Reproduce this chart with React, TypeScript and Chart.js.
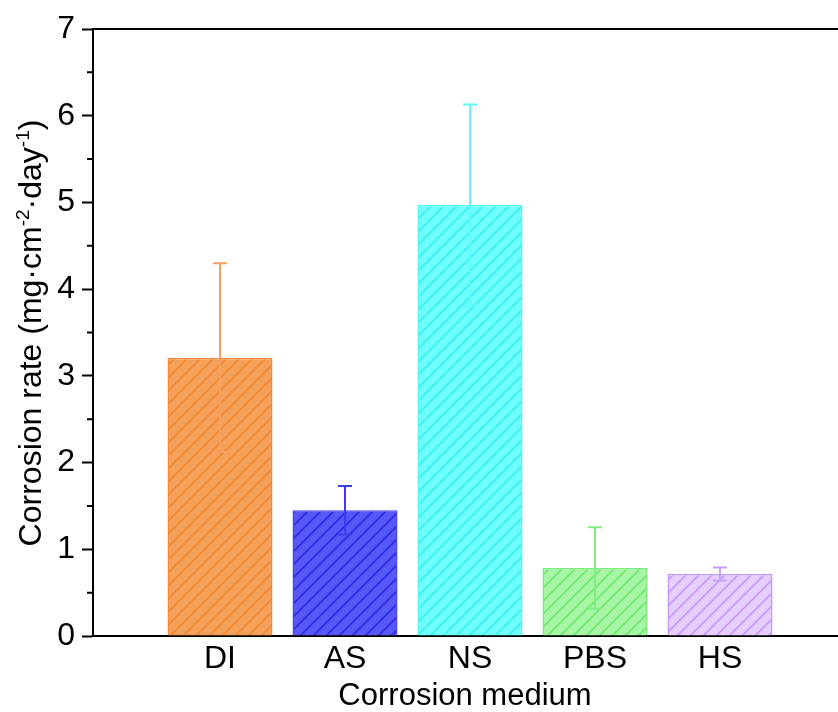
import React, { useEffect, useRef } from 'react';
import { Chart, registerables } from 'chart.js';

Chart.register(...registerables);

const categories = ['DI', 'AS', 'NS', 'PBS', 'HS'];
const rates = [3.21, 1.45, 4.97, 0.785, 0.715];
const errors = [1.09, 0.28, 1.16, 0.47, 0.075];
const fillColors = ['#F4A05A', '#5858F6', '#70FFFF', '#A6F6A6', '#E6CFFF'];
const hatchColors = ['#EE8A36', '#2C2CE6', '#3CEEEE', '#72E872', '#C69AF8'];
const borderColors = ['#F08C3C', '#4646F0', '#50F8F8', '#7AEC7A', '#C498F8'];
const errorColors = ['#F3A062', '#3C3CEA', '#5CFAFA', '#82EE82', '#C8A0F8'];
const yMinorTicks = [0.5, 1.5, 2.5, 3.5, 4.5, 5.5, 6.5];
const xTitle = 'Corrosion medium';
const yTitleParts = [
  { text: 'Corrosion rate (mg·cm', sup: false },
  { text: '-2', sup: true },
  { text: '·day', sup: false },
  { text: '-1', sup: true },
  { text: ')', sup: false },
];

const FONT = "'Liberation Sans', Arial, sans-serif";

function makeHatch(ctx: CanvasRenderingContext2D, bg: string, line: string) {
  const s = 13;
  const c = document.createElement('canvas');
  c.width = s;
  c.height = s;
  const g = c.getContext('2d')!;
  g.fillStyle = bg;
  g.fillRect(0, 0, s, s);
  g.strokeStyle = line;
  g.lineWidth = 1.8;
  g.beginPath();
  g.moveTo(-2, s + 2);
  g.lineTo(s + 2, -2);
  g.moveTo(-3, 3);
  g.lineTo(3, -3);
  g.moveTo(s - 3, s + 3);
  g.lineTo(s + 3, s - 3);
  g.stroke();
  return ctx.createPattern(c, 'repeat') as CanvasPattern;
}

const decorPlugin = {
  id: 'decor',
  afterDatasetsDraw(chart: any) {
    const ctx = chart.ctx as CanvasRenderingContext2D;
    const y = chart.scales.y;
    const meta = chart.getDatasetMeta(0);
    ctx.save();
    meta.data.forEach((bar: any, i: number) => {
      const x = bar.x;
      const top = y.getPixelForValue(rates[i] + errors[i]);
      const bot = y.getPixelForValue(rates[i] - errors[i]);
      ctx.strokeStyle = errorColors[i];
      ctx.lineWidth = 2;
      ctx.beginPath();
      ctx.moveTo(x, top);
      ctx.lineTo(x, bot);
      ctx.moveTo(x - 7, top);
      ctx.lineTo(x + 7, top);
      ctx.moveTo(x - 7, bot);
      ctx.lineTo(x + 7, bot);
      ctx.stroke();
    });
    ctx.restore();
  },
  afterDraw(chart: any) {
    const ctx = chart.ctx as CanvasRenderingContext2D;
    const area = chart.chartArea;
    const y = chart.scales.y;
    ctx.save();
    ctx.strokeStyle = '#000';
    ctx.lineWidth = 2;
    ctx.beginPath();
    ctx.moveTo(area.left - 1, area.top);
    ctx.lineTo(area.right + 20, area.top);
    ctx.stroke();
    ctx.beginPath();
    yMinorTicks.forEach((v) => {
      const py = y.getPixelForValue(v);
      ctx.moveTo(area.left - 6, py);
      ctx.lineTo(area.left, py);
    });
    ctx.stroke();
    const size = 32;
    const supSize = 19;
    const parts = yTitleParts.map((p) => {
      ctx.font = `${p.sup ? supSize : size}px ${FONT}`;
      return { ...p, w: ctx.measureText(p.text).width };
    });
    const total = parts.reduce((a, p) => a + p.w, 0);
    const cy = 333;
    ctx.translate(41, cy);
    ctx.rotate(-Math.PI / 2);
    ctx.fillStyle = '#000';
    ctx.textBaseline = 'alphabetic';
    ctx.textAlign = 'left';
    let u = -total / 2;
    parts.forEach((p) => {
      ctx.font = `${p.sup ? supSize : size}px ${FONT}`;
      ctx.fillText(p.text, u, p.sup ? -12 : 0);
      u += p.w;
    });
    ctx.restore();
    ctx.save();
    ctx.fillStyle = '#000';
    ctx.font = `31px ${FONT}`;
    ctx.textAlign = 'center';
    ctx.textBaseline = 'alphabetic';
    ctx.fillText(xTitle, 465, 705);
    ctx.restore();
  },
};

export default function App() {
  const ref = useRef<HTMLCanvasElement>(null);
  useEffect(() => {
    document.body.style.margin = '0';
    const canvas = ref.current!;
    const ctx = canvas.getContext('2d')!;
    const patterns = fillColors.map((c, i) => makeHatch(ctx, c, hatchColors[i]));
    const chart = new Chart(canvas, {
      type: 'bar',
      data: {
        datasets: [
          {
            data: rates.map((v, i) => ({ x: i, y: v })),
            backgroundColor: patterns,
            borderColor: borderColors,
            borderWidth: 1.5,
            barPercentage: 0.84,
            categoryPercentage: 1,
          },
        ],
      },
      options: {
        responsive: false,
        animation: false,
        devicePixelRatio: 1,
        layout: { padding: { top: 29, right: 15, left: 0, bottom: 0 } },
        plugins: { legend: { display: false }, tooltip: { enabled: false } },
        scales: {
          x: {
            type: 'linear',
            min: -1.016,
            max: 5,
            offset: false,
            afterBuildTicks: (scale: any) => {
              scale.ticks = categories.map((_, i) => ({ value: i }));
            },
            afterFit: (scale: any) => {
              scale.height = 76;
            },
            ticks: {
              autoSkip: false,
              maxRotation: 0,
              padding: 4,
              color: '#000',
              font: { family: FONT, size: 32 },
              callback: (v: any) => categories[v] ?? '',
            },
            grid: { display: false, drawTicks: false },
            border: { display: true, color: '#000', width: 2 },
          },
          y: {
            min: 0,
            max: 7,
            afterFit: (scale: any) => {
              scale.width = 93;
            },
            ticks: {
              stepSize: 1,
              padding: 7,
              color: '#000',
              font: { family: FONT, size: 32 },
            },
            grid: {
              drawOnChartArea: false,
              drawTicks: true,
              tickLength: 11,
              tickColor: '#000',
              tickWidth: 2,
            },
            border: { display: true, color: '#000', width: 2 },
          },
        },
      },
      plugins: [decorPlugin],
    });
    return () => chart.destroy();
  }, []);
  return (
    <div style={{ width: 838, height: 712, overflow: 'hidden', background: '#fff' }}>
      <canvas ref={ref} width={860} height={712} style={{ width: 860, height: 712, display: 'block' }} />
    </div>
  );
}
